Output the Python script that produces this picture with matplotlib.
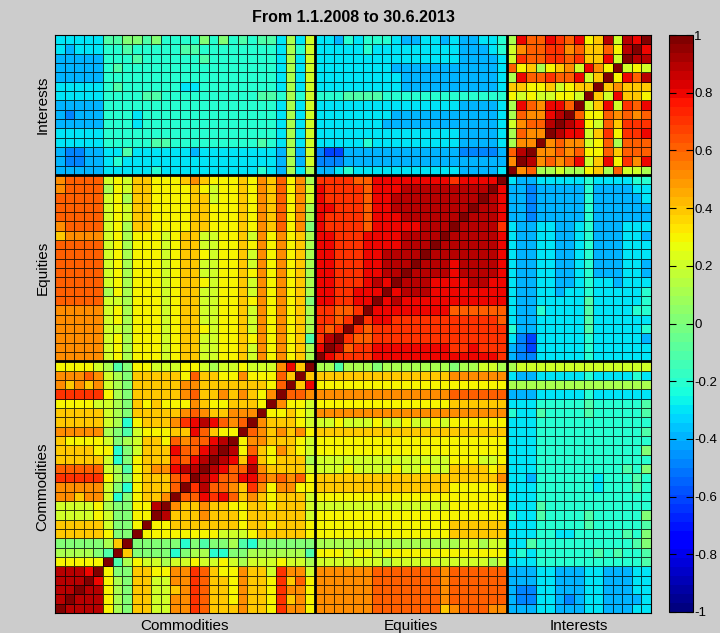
import numpy as np
import matplotlib
matplotlib.use('Agg')
import matplotlib.pyplot as plt

# correlation matrix, read row by row from the top of the picture
# (left part up to the diagonal, the rest is mirrored)
# '0'..'9' = 0.0..0.9, 'X' = 1.0, 'a'..'f' = -0.1..-0.6
rows = [
    "ccccc aa00a0bbbb0b0bab aac1c2 ccdbcbbbcddccdc ddccb 18668768349298X",
    "cdccc bbabbbbbaabbbbbb bbc1b2 cccccbccccccccc dddcb 2566775644639X",
    "ddddd bbbabbbbbbabbbbb bbc1c2 ccccccccccccccc ddddc 276677674482X",
    "ddddd babbbbbbbbbbbbbb bbc1c2 ccccccccddddddd ddddc 63413452853X",
    "ddddd bbbbbbbbbbbbbbbb bbc1c2 cccccccccdddddd ddddc 1866766824X",
    "ccccc babbbbbbccbbbbbb bbc1c2 cccccccccdddddd ddddc 443342344X",
    "ccccc bbbbaabbbbbbbbbb aab1b2 bbbaaaabbbbbbbb bbbbb 32322332X",
    "ddddd bbbbbbbbbbbbbbbb bbc1c2 ccccccccccccccc ddddc 1865886X",
    "deddd bbbcbbbbbbbbbbbb bbc1c2 ccccccccddddddd ddddc 165589X",
    "ddddd bbbcbbbbbbbbbbbb bbc1c2 cccccccdddddddd ddddc 25669X",
    "ccccc bbbbbbbbbbbbbbbb bbc1c2 ccccccccccccccc ddddc 1655X",
    "ccccc bbbbbaabbbbbbbbb abc1c2 cccccbccccccccc ddddc 155X",
    "deedd ccaccccccdcccccc ccd1d2 effdddddddddddd eeeed 69X",
    "deedd cbcccccccccccccc ccd1d2 eeedddddddddddd ddddd 5X",
    "ddddd cccccbcccccccccc bcd1c1 ddcbccccccccccc ddddc X",
    "56666 2324433345433343 546351 7777668888888878888X",
    "56666 1324433334323343 546352 877776888999999999X",
    "66666 2314433334423343 546352 87777688999999999X",
    "66666 2324433334433343 546351 8877768899999999X",
    "66666 2324433334433343 546351 877776888999999X",
    "56666 2314433334433343 546350 87777688888999X",
    "45555 2313332344223342 535341 8877788889999X",
    "66666 2313332344223343 535341 887778888999X",
    "66666 2313332344323342 535341 88777889999X",
    "66666 2313332344223342 535341 8877788999X",
    "66666 2313332344223343 535341 887778899X",
    "66666 2313332344323342 535341 88777898X",
    "66666 1313332344223342 535341 8877888X",
    "66666 2213332344223343 535340 887788X",
    "55555 2313332344223342 535341 77667X",
    "55555 2313332344223342 535341 7767X",
    "55555 2213332344323342 535341 767X",
    "55555 2313332344223343 53534a 79X",
    "55555 2313332344223342 535341 8X",
    "55555 2313332344223342 535341 X",
    "33332 1a03322233212232 22584X",
    "55565 2104444436443353 3364X",
    "54545 2104444455444444 436X",
    "77777 3104444456445454 35X",
    "33332 2104343335433444 3X",
    "44444 2104444456544555 X",
    "44444 21b344457898656X",
    "55555 10a23334486433X",
    "43333 2012443656689X",
    "44443 3b0244486689X",
    "44444 2b034447689X",
    "66666 21a3455899X",
    "77777 310344467X",
    "55555 20b34446X",
    "55455 2b03445X",
    "22223 100339X",
    "22223 20033X",
    "44444 2003X",
    "44444 300X",
    "00000 14X",
    "11110aX",
    "33333X",
    "9998X",
    "999X",
    "99X",
    "9X",
    "X",
]
groups = ["Commodities", "Equities", "Interests"]
group_sizes = [27, 20, 15]
cbar_ticks = [-1, -0.8, -0.6, -0.4, -0.2, 0, 0.2, 0.4, 0.6, 0.8, 1]
cbar_labels = ["-1", "-0.8", "-0.6", "-0.4", "-0.2", "0", "0.2", "0.4", "0.6", "0.8", "1"]

code = {str(k): k / 10.0 for k in range(10)}
code["X"] = 1.0
for k, ch in enumerate("abcdef"):
    code[ch] = -(k + 1) / 10.0

n = len(rows)
M = np.zeros((n, n))
for r, s in enumerate(rows):
    s = s.replace(" ", "")
    i = n - 1 - r
    assert len(s) == i + 1, (r, len(s))
    for j, ch in enumerate(s):
        M[i, j] = code[ch]
        M[j, i] = code[ch]

plt.rcParams['font.family'] = ['Liberation Sans', 'DejaVu Sans']
fig = plt.figure(figsize=(7.2, 6.33), dpi=100, facecolor='#cccccc')
ax = fig.add_axes([55 / 720, 20 / 633, 596 / 720, 578 / 633])
cax = fig.add_axes([669 / 720, 21 / 633, 24 / 720, 577 / 633])

mesh = ax.pcolormesh(np.arange(n + 1), np.arange(n + 1), M,
                     cmap=plt.get_cmap('jet', 64), vmin=-1, vmax=1,
                     edgecolors=(0, 0, 0, 0.75), linewidth=0.7)
edges = np.cumsum(group_sizes)[:-1]
for e in edges:
    ax.axhline(e, color='k', lw=2)
    ax.axvline(e, color='k', lw=2)
ax.set_xlim(0, n)
ax.set_ylim(0, n)

centers = np.cumsum(group_sizes) - np.array(group_sizes) / 2.0
ax.set_xticks(centers)
ax.set_xticklabels(groups, fontsize=11)
ax.set_yticks(centers)
ax.set_yticklabels(groups, fontsize=11, rotation=90, va='center')
ax.tick_params(length=0, pad=4)
for sp in ax.spines.values():
    sp.set_linewidth(0.8)
ax.set_title("From 1.1.2008 to 30.6.2013", fontsize=11.5, fontweight='bold', pad=9)

cb = fig.colorbar(mesh, cax=cax)
cb.set_ticks(cbar_ticks)
cb.set_ticklabels(cbar_labels)
cb.ax.tick_params(direction='in', left=True, right=True, length=5, labelsize=9.5, pad=1)
cb.outline.set_linewidth(0.8)

plt.savefig('out.png', dpi=100, facecolor=fig.get_facecolor())
